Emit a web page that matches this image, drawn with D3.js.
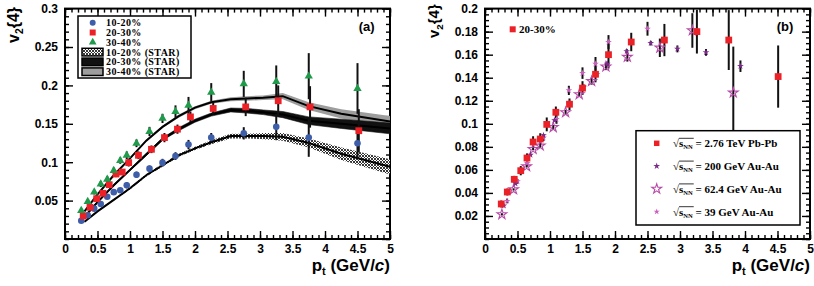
<!DOCTYPE html>
<html>
<head>
<meta charset="utf-8">
<script src="https://cdn.jsdelivr.net/npm/d3@7"></script>
<style>
body { margin: 0; background: #fff; }
svg { display: block; }
</style>
</head>
<body>
<div id="chart"></div>
<script>
// ---------- data ----------

// panel (a) ALICE v2{4}
const ptBlue  = [0.25,0.35,0.45,0.55,0.65,0.75,0.85,0.95,1.1,1.3,1.5,1.7,1.9,2.25,2.75,3.25,3.75,4.5];
const v1020   = [0.0238,0.031,0.0395,0.0456,0.055,0.061,0.0634,0.070,0.0837,0.0916,0.0994,0.108,0.123,0.132,0.1376,0.146,0.132,0.1246];
const e1020   = [0.002,0.002,0.002,0.002,0.003,0.003,0.003,0.004,0.004,0.004,0.005,0.005,0.006,0.006,0.008,0.017,0.025,0.02];

const ptRed   = [0.28,0.385,0.487,0.585,0.68,0.785,0.88,0.98,1.13,1.33,1.53,1.73,1.93,2.28,2.78,3.28,3.77,4.52];
const v2030   = [0.030,0.0413,0.0525,0.0595,0.0707,0.0846,0.0872,0.0994,0.109,0.1168,0.132,0.143,0.159,0.170,0.172,0.180,0.172,0.141];
const e2030   = [0.002,0.003,0.003,0.003,0.004,0.004,0.004,0.005,0.005,0.005,0.006,0.006,0.007,0.008,0.012,0.02,0.027,0.028];

const ptGreen = [0.25,0.35,0.45,0.55,0.65,0.75,0.85,0.95,1.1,1.3,1.5,1.7,1.9,2.25,2.75,3.25,3.75,4.5];
const v3040   = [0.0369,0.0486,0.061,0.0716,0.0777,0.089,0.102,0.109,0.1246,0.140,0.157,0.166,0.174,0.191,0.202,0.205,0.212,0.196];
const e3040   = [0.003,0.003,0.003,0.004,0.004,0.004,0.004,0.005,0.005,0.006,0.006,0.008,0.011,0.012,0.017,0.021,0.03,0.033];

// STAR bands (centre and half width)
const ptStar    = [0.3,0.5,0.75,1.0,1.25,1.5,1.75,2.0,2.25,2.55,2.8,3.05,3.35,3.75,4.25,5.0];
const star1020  = [0.0225,0.036,0.051,0.066,0.083,0.096,0.109,0.118,0.126,0.134,0.134,0.134,0.133,0.125,0.111,0.094];
const star1020e = [0.001,0.001,0.001,0.0015,0.0015,0.002,0.002,0.002,0.0025,0.003,0.003,0.004,0.005,0.006,0.008,0.01];
const star2030  = [0.029,0.048,0.070,0.090,0.110,0.130,0.143,0.154,0.162,0.168,0.167,0.165,0.162,0.154,0.150,0.144];
const star2030e = [0.001,0.001,0.001,0.001,0.0015,0.0015,0.002,0.002,0.002,0.0025,0.003,0.003,0.004,0.005,0.006,0.007];
const star3040  = [0.036,0.058,0.083,0.105,0.128,0.146,0.160,0.171,0.178,0.182,0.183,0.184,0.186,0.173,0.163,0.153];
const star3040e = [0.001,0.001,0.001,0.001,0.0015,0.0015,0.002,0.002,0.002,0.0025,0.003,0.003,0.004,0.005,0.006,0.007];

// panel (b)
const ptPb   = [0.25,0.343,0.45,0.55,0.646,0.74,0.85,0.95,1.09,1.30,1.50,1.70,1.90,2.25,2.76,3.26,3.75,4.51];
const vPb    = [0.0304,0.0408,0.0518,0.0593,0.0703,0.0842,0.0868,0.0995,0.110,0.117,0.131,0.143,0.160,0.171,0.1727,0.180,0.1727,0.141];
const ePb    = [0.003,0.003,0.003,0.004,0.004,0.005,0.005,0.006,0.005,0.005,0.006,0.007,0.012,0.008,0.014,0.019,0.026,0.027];

const pt200  = [0.29,0.47,0.70,0.90,1.07,1.30,1.52,1.72,1.88,2.18,2.55,2.96,3.40,3.93];
const v200   = [0.029,0.048,0.073,0.090,0.103,0.118,0.132,0.143,0.152,0.163,0.170,0.165,0.162,0.150];
const e200   = [0.001,0.001,0.001,0.001,0.001,0.002,0.002,0.002,0.002,0.002,0.002,0.003,0.003,0.005];

const pt62   = [0.26,0.44,0.64,0.74,0.85,1.05,1.24,1.45,1.64,1.86,2.19,2.69,3.19,3.82];
const v62    = [0.0214,0.043,0.063,0.078,0.081,0.097,0.110,0.1256,0.137,0.1496,0.158,0.166,0.181,0.127];
const e62    = [0.001,0.001,0.001,0.001,0.002,0.002,0.002,0.002,0.003,0.003,0.004,0.008,0.015,0.04];

const pt39   = [0.34,0.50,0.65,0.90,1.10,1.29,1.50,1.70,1.90,2.50];
const v39    = [0.033,0.050,0.066,0.088,0.104,0.129,0.144,0.152,0.171,0.1825];
const e39    = [0.002,0.002,0.003,0.003,0.004,0.004,0.005,0.006,0.006,0.006];

const legendA = ["10-20%", "20-30%", "30-40%", "10-20% (STAR)", "20-30% (STAR)", "30-40% (STAR)"];
const legendB = ["2.76 TeV Pb-Pb", "200 GeV Au-Au", "62.4 GeV Au-Au", "39 GeV Au-Au"];

// ---------- layout ----------
const width = 814, height = 286;
const svg = d3.select("#chart").append("svg")
  .attr("width", width).attr("height", height)
  .attr("viewBox", [0, 0, width, height]);

const xA = d3.scaleLinear().domain([0, 5]).range([65, 390]);
const yA = d3.scaleLinear().domain([0, 0.3]).range([239, 8.6]);
const xB = d3.scaleLinear().domain([0, 5]).range([485, 810]);
const yB = d3.scaleLinear().domain([0, 0.2]).range([239, 8.6]);

const sans = "Liberation Sans, Arial, Helvetica, sans-serif";
const serif = "Liberation Serif, Times New Roman, serif";

const blue = "#3e5eaa", red = "#ec2027", green = "#1f9a4a";
const purple = "#7d2b8b", magenta = "#b84aa8", pink = "#cc60bf";

// crosshatch pattern for the 10-20% STAR band
const defs = svg.append("defs");
const pat = defs.append("pattern").attr("id", "hatch")
  .attr("patternUnits", "userSpaceOnUse").attr("width", 3).attr("height", 3);
pat.append("rect").attr("width", 3).attr("height", 3).attr("fill", "#fff");
pat.append("path").attr("d", "M0,0L3,3M3,0L0,3").attr("stroke", "#222").attr("stroke-width", 0.9);

const fmt = d => String(+d.toFixed(3));

// frame + inward ticks on all four sides
function frame(x, y, nMinorY, nMajorY) {
  const [x0, x1] = x.range(), [y0, y1] = y.range();
  const g = svg.append("g");
  const majX = x.ticks(10), minX = x.ticks(50);
  const majY = y.ticks(nMajorY), minY = y.ticks(nMinorY);

  function style(a) {
    a.select(".domain").remove();
    a.selectAll("line").attr("stroke", "#000").attr("stroke-width", 1.4);
    a.attr("font-size", 12).attr("font-weight", "bold").attr("font-family", sans);
  }
  g.append("g").attr("transform", `translate(0,${y0})`)
    .call(d3.axisBottom(x).tickValues(minX).tickSize(-4).tickFormat("")).call(style);
  g.append("g").attr("transform", `translate(0,${y0})`)
    .call(d3.axisBottom(x).tickValues(majX).tickSize(-8).tickPadding(5).tickFormat(fmt)).call(style);
  g.append("g").attr("transform", `translate(0,${y1})`)
    .call(d3.axisTop(x).tickValues(minX).tickSize(-4).tickFormat("")).call(style);
  g.append("g").attr("transform", `translate(0,${y1})`)
    .call(d3.axisTop(x).tickValues(majX).tickSize(-8).tickFormat("")).call(style);
  g.append("g").attr("transform", `translate(${x0},0)`)
    .call(d3.axisLeft(y).tickValues(minY).tickSize(-4).tickFormat("")).call(style);
  g.append("g").attr("transform", `translate(${x0},0)`)
    .call(d3.axisLeft(y).tickValues(majY.filter(d => d > 0)).tickSize(-8).tickPadding(7).tickFormat(fmt)).call(style);
  g.append("g").attr("transform", `translate(${x1},0)`)
    .call(d3.axisRight(y).tickValues(minY).tickSize(-4).tickFormat("")).call(style);
  g.append("g").attr("transform", `translate(${x1},0)`)
    .call(d3.axisRight(y).tickValues(majY).tickSize(-8).tickFormat("")).call(style);

  g.append("rect").attr("x", x0).attr("y", y1).attr("width", x1 - x0).attr("height", y0 - y1)
    .attr("fill", "none").attr("stroke", "#000").attr("stroke-width", 2);
}

function titles(x, yTitleX, yTitleY, ySize) {
  const xt = svg.append("text").attr("x", x.range()[1]).attr("y", 271)
    .attr("text-anchor", "end").attr("font-family", sans).attr("font-weight", "bold").attr("font-size", 17);
  xt.append("tspan").text("p");
  xt.append("tspan").attr("font-size", 11).attr("dy", 4).text("t");
  xt.append("tspan").attr("dy", -4).text(" (GeV/");
  xt.append("tspan").attr("font-style", "italic").text("c");
  xt.append("tspan").text(")");

  const yt = svg.append("text").attr("transform", `translate(${yTitleX},${yTitleY}) rotate(-90)`)
    .attr("font-family", sans).attr("font-weight", "bold").attr("font-size", ySize);
  yt.append("tspan").text("v");
  yt.append("tspan").attr("font-size", ySize * 0.65).attr("dy", ySize * 0.28).text("2");
  yt.append("tspan").attr("dy", -ySize * 0.28).text("{4}");
}

function errBars(g, x, y, pts, vals, errs) {
  g.append("g").selectAll("line")
    .data(pts.map((p, i) => [p, vals[i], errs[i]]))
    .join("line")
    .attr("x1", d => x(d[0])).attr("x2", d => x(d[0]))
    .attr("y1", d => y(d[1] - d[2])).attr("y2", d => y(d[1] + d[2]))
    .attr("stroke", "#111").attr("stroke-width", 2);
}

function markers(g, x, y, pts, vals, type, size, fill, stroke) {
  g.append("g").selectAll("path")
    .data(pts.map((p, i) => [p, vals[i]]))
    .join("path")
    .attr("transform", d => `translate(${x(d[0])},${y(d[1])})`)
    .attr("d", d3.symbol().type(type).size(size))
    .attr("fill", fill)
    .attr("stroke", stroke || "none")
    .attr("stroke-width", stroke ? 1.1 : 0);
}

// ---------- panel (a) ----------
frame(xA, yA, 30, 6);
const gA = svg.append("g");

const bands = [
  { c: star3040, e: star3040e, fill: "#9d9d9d" },
  { c: star2030, e: star2030e, fill: "#111" },
  { c: star1020, e: star1020e, fill: "url(#hatch)" }
];
const area = d3.area().x(d => xA(d[0])).y0(d => yA(d[1] - d[2])).y1(d => yA(d[1] + d[2]));
const line = d3.line().x(d => xA(d[0])).y(d => yA(d[1]));
bands.forEach(b => {
  const rows = ptStar.map((p, i) => [p, b.c[i], b.e[i]]);
  gA.append("path").datum(rows).attr("d", area).attr("fill", b.fill)
    .attr("stroke", b.fill === "#111" ? "#111" : "none").attr("stroke-width", 0.6);
});
bands.forEach(b => {
  const rows = ptStar.map((p, i) => [p, b.c[i]]);
  gA.append("path").datum(rows).attr("d", line).attr("fill", "none")
    .attr("stroke", "#000").attr("stroke-width", 2);
});

errBars(gA, xA, yA, ptBlue, v1020, e1020);
errBars(gA, xA, yA, ptRed, v2030, e2030);
errBars(gA, xA, yA, ptGreen, v3040, e3040);
markers(gA, xA, yA, ptBlue, v1020, d3.symbolCircle, 34, blue);
markers(gA, xA, yA, ptRed, v2030, d3.symbolSquare, 46, red);
markers(gA, xA, yA, ptGreen, v3040, d3.symbolTriangle, 30, green);

// legend (a)
const legA = svg.append("g");
legA.append("rect").attr("x", 78).attr("y", 16).attr("width", 113).attr("height", 62)
  .attr("fill", "#fff").attr("stroke", "#000").attr("stroke-width", 1.5);
const symA = [
  { type: d3.symbolCircle, size: 28, fill: blue },
  { type: d3.symbolSquare, size: 36, fill: red },
  { type: d3.symbolTriangle, size: 26, fill: green }
];
const swatch = ["url(#hatch)", "#111", "#9d9d9d"];
legendA.forEach((label, i) => {
  const cy = 22.7 + i * 9.8;
  if (i < 3) {
    legA.append("path").attr("transform", `translate(92.7,${cy})`)
      .attr("d", d3.symbol().type(symA[i].type).size(symA[i].size)).attr("fill", symA[i].fill);
  } else {
    legA.append("rect").attr("x", 82).attr("y", cy - 3.8).attr("width", 21).attr("height", 7.6)
      .attr("fill", swatch[i - 3]).attr("stroke", "#000").attr("stroke-width", 1.5);
  }
  legA.append("text").attr("x", 106).attr("y", cy + 3.5)
    .attr("font-family", serif).attr("font-weight", "bold").attr("font-size", 10)
    .attr("letter-spacing", 0.4)
    .text(label);
});

svg.append("text").attr("x", 366.7).attr("y", 30.5).attr("text-anchor", "middle")
  .attr("font-family", sans).attr("font-weight", "bold").attr("font-size", 13).text("(a)");
titles(xA, 18.7, 43, 16);

// ---------- panel (b) ----------
frame(xB, yB, 40, 10);
const gB = svg.append("g");
errBars(gB, xB, yB, pt39, v39, e39);
errBars(gB, xB, yB, pt200, v200, e200);
errBars(gB, xB, yB, pt62, v62, e62);
errBars(gB, xB, yB, ptPb, vPb, ePb);
markers(gB, xB, yB, pt62, v62, d3.symbolStar, 30, "none", magenta);
markers(gB, xB, yB, pt39, v39, d3.symbolStar, 14, pink);
markers(gB, xB, yB, pt200, v200, d3.symbolStar, 14, purple);
markers(gB, xB, yB, ptPb, vPb, d3.symbolSquare, 46, red);

// "20-30%" tag
svg.append("path").attr("transform", "translate(512.7,29.3)")
  .attr("d", d3.symbol().type(d3.symbolSquare).size(36)).attr("fill", red);
svg.append("text").attr("x", 519).attr("y", 33.2)
  .attr("font-family", serif).attr("font-weight", "bold").attr("font-size", 11).text("20-30%");

// legend (b)
const legB = svg.append("g");
legB.append("rect").attr("x", 636).attr("y", 130.7).attr("width", 164).attr("height", 94.3)
  .attr("fill", "#fff").attr("stroke", "#000").attr("stroke-width", 1.5);
const symB = [
  { type: d3.symbolSquare, size: 30, fill: red, stroke: null },
  { type: d3.symbolStar, size: 14, fill: purple, stroke: null },
  { type: d3.symbolStar, size: 30, fill: "none", stroke: magenta },
  { type: d3.symbolStar, size: 12, fill: pink, stroke: null }
];
legendB.forEach((label, i) => {
  const cy = 143.3 + i * 22.8;
  legB.append("path").attr("transform", `translate(656.7,${cy})`)
    .attr("d", d3.symbol().type(symB[i].type).size(symB[i].size))
    .attr("fill", symB[i].fill).attr("stroke", symB[i].stroke || "none").attr("stroke-width", 1.1);
  const t = legB.append("text").attr("x", 673).attr("y", cy + 4)
    .attr("font-family", serif).attr("font-weight", "bold").attr("font-size", 11);
  t.append("tspan").text("\u221A");
  t.append("tspan").text("s");
  t.append("tspan").attr("font-size", 6.5).attr("dy", 2).text("NN");
  t.append("tspan").attr("dy", -2).text(" = " + label);
  const node = t.node();
  const a = node.getStartPositionOfChar(1).x, b = node.getEndPositionOfChar(3).x;
  legB.append("line").attr("x1", a).attr("x2", b + 1).attr("y1", cy - 5).attr("y2", cy - 5)
    .attr("stroke", "#000").attr("stroke-width", 0.8);
});

svg.append("text").attr("x", 785).attr("y", 30.5).attr("text-anchor", "middle")
  .attr("font-family", sans).attr("font-weight", "bold").attr("font-size", 13).text("(b)");
titles(xB, 439, 38, 15);
</script>
</body>
</html>
